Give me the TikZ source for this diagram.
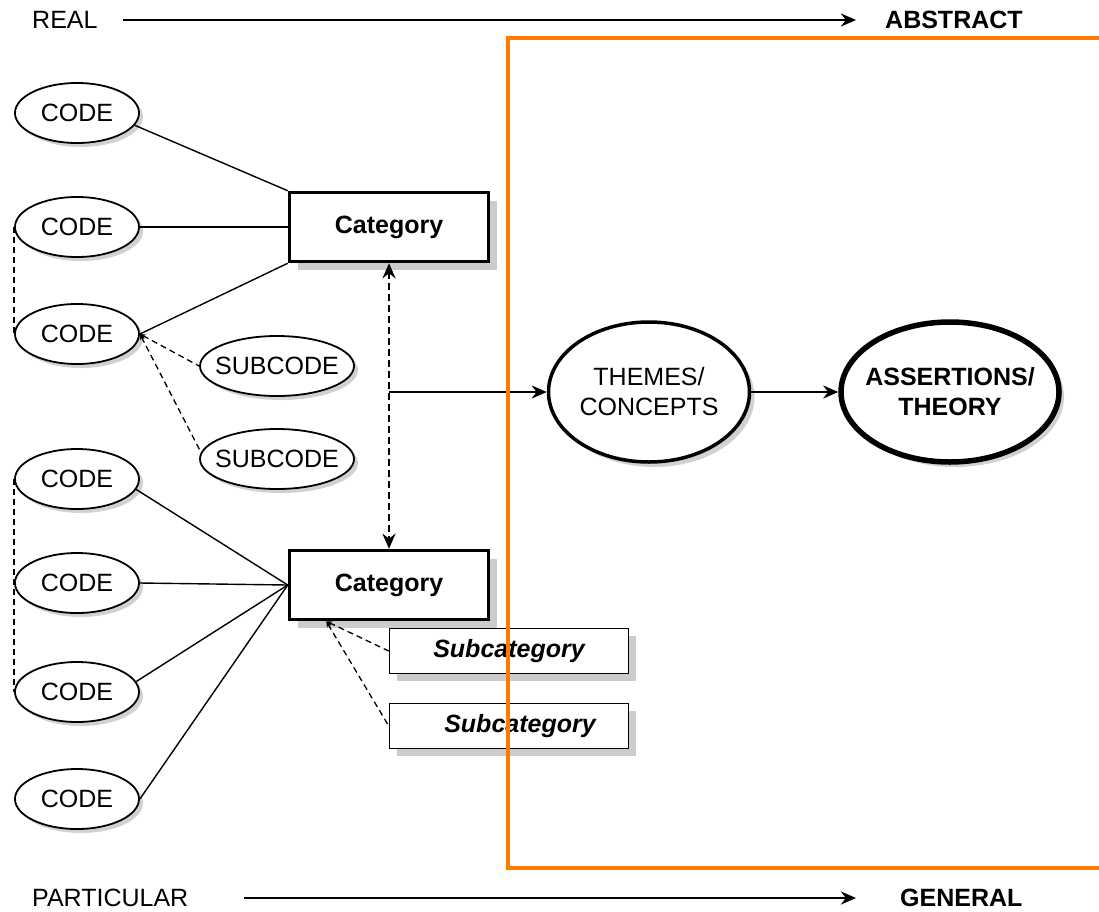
\documentclass[tikz,border=0pt]{standalone}
\usepackage{fontspec}
\setmainfont{Liberation Sans}
\usetikzlibrary{shapes.geometric}
\usetikzlibrary{shadows}
\usetikzlibrary{arrows.meta}
\definecolor{frameorange}{RGB}{255,122,0}

\begin{document}
\begin{tikzpicture}[x=1pt, y=-1pt,
      every node/.style={font=\fontsize{25}{30}\selectfont, align=center, inner sep=0pt},
      codeell/.style={shape=ellipse, draw, line width=1.8pt, fill=white,
        minimum width=124pt, minimum height=60pt,
        drop shadow={shadow xshift=4pt, shadow yshift=-4pt, fill=black!18, opacity=1}},
      catbox/.style={shape=rectangle, draw, line width=3.5pt, fill=white,
        minimum width=199pt, minimum height=69pt,
        font=\fontsize{25}{30}\selectfont\bfseries,
        drop shadow={shadow xshift=8pt, shadow yshift=-8pt, fill=black!20, opacity=1}},
      subbox/.style={shape=rectangle, draw, line width=1.5pt, fill=white,
        minimum width=239pt, minimum height=45pt,
        font=\fontsize{25}{30}\selectfont\bfseries\itshape,
        drop shadow={shadow xshift=7pt, shadow yshift=-7pt, fill=black!20, opacity=1}},
      bigell/.style={shape=ellipse, draw, line width=3.5pt, fill=white,
        minimum width=201pt, minimum height=140pt,
        drop shadow={shadow xshift=5pt, shadow yshift=-5pt, fill=black!18, opacity=1}},
      link/.style={line width=1.4pt},
      sublink/.style={line width=1.3pt, dash pattern=on 6pt off 4pt},
      flow/.style={line width=2.8pt, -{Stealth[length=15pt, width=13pt]}}]
          \clip (0,0) rectangle (1099,911);

          % scale: real -> abstract, particular -> general
          \node [anchor=west] (real) at (32,20) {REAL};
          \node [anchor=west, font=\fontsize{25}{30}\selectfont\bfseries] (abstract) at (885,20) {ABSTRACT};
          \node [anchor=west] (particular) at (32,898) {PARTICULAR};
          \node [anchor=west, font=\fontsize{25}{30}\selectfont\bfseries] (general) at (900,898) {GENERAL};
          \draw [flow] ([xshift=25pt]real.east) -- ([xshift=-29pt]abstract.west);
          \draw [flow] ([xshift=56pt]particular.east) -- ([xshift=-44pt]general.west);

          % codes
          \node [codeell] (code1) at (77,113) {CODE};
          \node [codeell] (code2) at (77,227) {CODE};
          \node [codeell] (code3) at (77,334) {CODE};
          \node [codeell] (code4) at (77,479) {CODE};
          \node [codeell] (code5) at (77,583) {CODE};
          \node [codeell] (code6) at (77,692) {CODE};
          \node [codeell] (code7) at (77,799) {CODE};
          \node [codeell, minimum width=154pt, inner xsep=-8pt] (subcode1) at (277,366) {SUBCODE};
          \node [codeell, minimum width=154pt, inner xsep=-8pt] (subcode2) at (277,459) {SUBCODE};

          % categories
          \node [catbox] (cat1) at (389,227) {Category};
          \node [catbox] (cat2) at (389,585) {Category};
          \node [subbox] (subcat1) at (509,651) {Subcategory};
          \node [subbox] (subcat2) at (509,726) {\hspace*{22pt}Subcategory};

          % themes and theory
          \node [bigell] (themes) at (649,392) {THEMES/\\CONCEPTS};
          \node [bigell, line width=5.5pt, minimum width=218pt, inner xsep=-8pt,
                 font=\fontsize{25}{30}\selectfont\bfseries] (theory) at (950,392) {ASSERTIONS/\\THEORY};

          % links code -> category
          \draw [link] (code1.-12) -- (cat1.north west);
          \draw [link] (code2.east) -- (cat1.west);
          \draw [link] (code3.east) -- (cat1.south west);
          \draw [link] (code4.-10) -- (cat2.west);
          \draw [link] (code5.east) -- (cat2.west);
          \draw [link] (code6.10) -- (cat2.west);
          \draw [link] (code7.east) -- (cat2.west);
          \draw [sublink] (code2.west) -- (code3.west);
          \draw [sublink] (code4.west) -- (code6.west);
          \draw [sublink, {Stealth[length=6pt, width=5pt]}-] (code3.east) -- (subcode1.west);
          \draw [sublink, {Stealth[length=6pt, width=5pt]}-] (code3.east) -- (subcode2.175);
          \draw [sublink, {Stealth[length=6pt, width=5pt]}-] (cat2.210) -- (subcat1.west);
          \draw [sublink, {Stealth[length=6pt, width=5pt]}-] (cat2.210) -- (subcat2.west);

          % category <-> category, then on to themes and theory
          \coordinate (junc) at (cat1.south |- themes.west);
          \draw [line width=2.8pt, dash pattern=on 7pt off 4pt,
                 {Stealth[length=15pt, width=13pt]}-{Stealth[length=15pt, width=13pt]}]
                (cat1.south) -- (cat2.north);
          \draw [flow] (junc) -- (themes.west);
          \draw [flow] (themes.east) -- (theory.west);

          % frame
          \draw [frameorange, line width=4pt] (1120,38) -- (508,38) -- (508,868) -- (1120,868);
\end{tikzpicture}
\end{document}
